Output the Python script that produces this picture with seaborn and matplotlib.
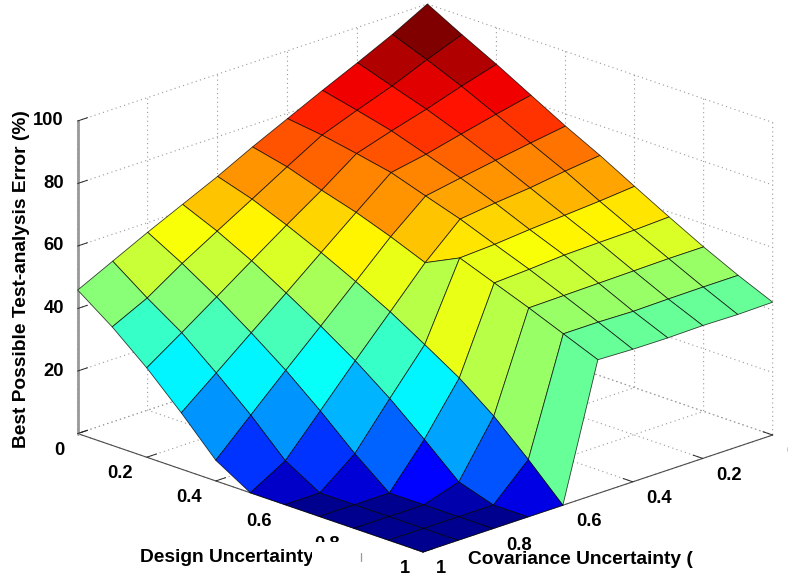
import numpy as np
import matplotlib
matplotlib.use("Agg")
import matplotlib.pyplot as plt
import seaborn as sns
from matplotlib.colors import LinearSegmentedColormap
from matplotlib.lines import Line2D
from matplotlib.patches import Rectangle
from mpl_toolkits.mplot3d import proj3d

# ---- data -------------------------------------------------------------
design_levels = [0.0, 0.1, 0.2, 0.3, 0.4, 0.5, 0.6, 0.7, 0.8, 0.9, 1.0]
cov_levels = [0.0, 0.1, 0.2, 0.3, 0.4, 0.5, 0.6, 0.7, 0.8, 0.9, 1.0]
# one row per covariance level, values along design uncertainty
err_cov_00 = [100, 94, 88.3, 82.2, 76.1, 70.5, 64.4, 58.4, 52.6, 47.3, 42.5]
err_cov_01 = [94, 89.7, 85, 79.8, 74.4, 69.2, 63.4, 57.9, 52.6, 47.3, 42.3]
err_cov_02 = [88.7, 85, 81.4, 77.2, 72.6, 67.6, 62.6, 57.7, 52.4, 47.2, 42.5]
err_cov_03 = [83.6, 81, 78.2, 74.5, 70.7, 66.5, 61.8, 57.4, 52.2, 47, 42.3]
err_cov_04 = [78.3, 76.8, 74.7, 72.4, 68.7, 65.1, 60.8, 56.6, 52, 47.3, 42.4]
err_cov_05 = [73, 70.4, 66.7, 63.4, 59.4, 54.9, 60.2, 56, 51.8, 47.3, 42.8]
err_cov_06 = [67.3, 63.8, 59.3, 54.3, 48.8, 42.9, 36.2, 29.3, 20.9, 10.8, 0]
err_cov_07 = [62.1, 57.3, 51.6, 45.1, 38.3, 31, 22.7, 13.4, 3.6, 0, 0]
err_cov_08 = [56.9, 50.7, 43.8, 36.1, 27.9, 18.7, 8.8, 0, 0, 0, 0]
err_cov_09 = [51.4, 43.4, 36.1, 27, 17.3, 6.5, 0, 0, 0, 0, 0]
err_cov_10 = [45.9, 37.9, 28.6, 18, 6.6, 0, 0, 0, 0, 0, 0]

floor_ticks = [0, 0.2, 0.4, 0.6, 0.8, 1]
floor_tick_labels = ["0", "0.2", "0.4", "0.6", "0.8", "1"]
z_ticks = [0, 20, 40, 60, 80, 100]
z_tick_labels = ["", "20", "40", "60", "80", "100"]

# ---- style ------------------------------------------------------------
sns.set_style("white")
plt.rcParams["font.family"] = ["Liberation Sans", "DejaVu Sans"]
plt.rcParams["font.weight"] = "bold"
FS = 13.2
TITLE_FS = 13.8
W, H = 788, 577

fig = plt.figure(figsize=(W / 100, H / 100), dpi=100, facecolor="white")
ax = fig.add_axes([0, 0, H / W, 1], projection="3d", proj_type="ortho")
ax.set_box_aspect((1, 1, 0.676))
ax.view_init(elev=19.8, azim=45.36)
ax.set_xlim(0, 1, view_margin=0)
ax.set_ylim(0, 1, view_margin=0)
ax.set_zlim(0, 100, view_margin=0)

# ---- surface ----------------------------------------------------------
Z = np.array([err_cov_00, err_cov_01, err_cov_02, err_cov_03, err_cov_04, err_cov_05,
              err_cov_06, err_cov_07, err_cov_08, err_cov_09, err_cov_10], dtype=float)
D, C = np.meshgrid(design_levels, cov_levels)
# the classic 64-level jet ramp
jet = LinearSegmentedColormap.from_list(
    "classic_jet",
    [(0.0, (0, 0, 0.5625)), (0.125, (0, 0, 1)), (0.375, (0, 1, 1)),
     (0.625, (1, 1, 0)), (0.875, (1, 0, 0)), (1.0, (0.5, 0, 0))], N=64)
ax.plot_surface(C, D, Z, rstride=1, cstride=1, facecolors=jet(Z / 100.0), shade=False,
                edgecolor=(0, 0, 0, 0.75), linewidth=0.6, antialiased=True)

# ---- place the box so that its floor corners land where they should ----
def screen(x, y, z):
    X, Y, _ = proj3d.proj_transform(x, y, z, ax.get_proj())
    return ax.transData.transform((X, Y))

ax.apply_aspect()
L0, R0 = screen(1, 0, 0), screen(0, 1, 0)
side = H * (773 - 78) / (R0[0] - L0[0])
ax.set_position([0, 0, side / W, side / H])
ax.apply_aspect()
F1 = screen(1, 1, 0)
ax.set_position([(423 - F1[0]) / W, (H - 552 - F1[1]) / H, side / W, side / H])
ax.apply_aspect()

# ---- axes -------------------------------------------------------------
ax_in = side / 100.0
def pad_for(frac):
    return frac * (2 * 72 * ax_in) / 48.0 / 0.08 - 8

ax.set_xticks(floor_ticks)
ax.set_xticklabels(floor_tick_labels, ha="left", va="center", fontsize=FS, fontweight="bold", color="k")
ax.set_yticks(floor_ticks)
ax.set_yticklabels(floor_tick_labels, ha="right", va="center", fontsize=FS, fontweight="bold", color="k")
ax.set_zticks(z_ticks)
ax.set_zticklabels(z_tick_labels, ha="right", va="center", fontsize=FS, fontweight="bold", color="k")
ax.tick_params(axis="x", pad=pad_for(0.0385))
ax.tick_params(axis="y", pad=pad_for(0.0385))
ax.tick_params(axis="z", pad=pad_for(0.020))

for axis, lw, col in ((ax.xaxis, 0.8, "0.3"), (ax.yaxis, 0.8, "0.3"), (ax.zaxis, 2.0, "0.6")):
    axis.set_pane_color((1, 1, 1, 0))
    axis.pane.set_edgecolor((1, 1, 1, 0))
    axis.line.set_color(col)
    axis.line.set_linewidth(lw)
    axis._axinfo["grid"].update(color="0.6", linewidth=0.8, linestyle=(0, (1, 3)))
    axis._axinfo["tick"].update(inward_factor=0.0, outward_factor=0.35, linewidth={True: 0.7, False: 0.7}, color="0.3")
ax.grid(True)

# ---- axis titles ------------------------------------------------------
def fx(px):
    return px / W
def fy(py):
    return 1 - py / H

fig.text(fx(22), fy(448), "Best Possible Test-analysis Error (%)", rotation=90, ha="center", va="bottom",
         fontsize=TITLE_FS, fontweight="bold", color="k", zorder=5)
fig.add_artist(Rectangle((fx(130), fy(577)), fx(230), 35 / H, transform=fig.transFigure,
                         facecolor="white", edgecolor="none", zorder=4))
fig.text(fx(140), fy(558), "Design Uncertainty", ha="left", va="center", fontsize=TITLE_FS, fontweight="bold",
         color="k", zorder=5)
fig.add_artist(Rectangle((fx(312), fy(577)), fx(46), 35 / H, transform=fig.transFigure,
                         facecolor="white", edgecolor="none", zorder=6))
fig.add_artist(Line2D([fx(360.5), fx(360.5)], [fy(553), fy(561)], transform=fig.transFigure,
                      color="0.6", linewidth=0.9, zorder=6))
fig.text(fx(468), fy(559), "Covariance Uncertainty (", ha="left", va="center", fontsize=TITLE_FS, fontweight="bold",
         color="k", zorder=5)

fig.savefig("out.png", dpi=100, facecolor="white")
